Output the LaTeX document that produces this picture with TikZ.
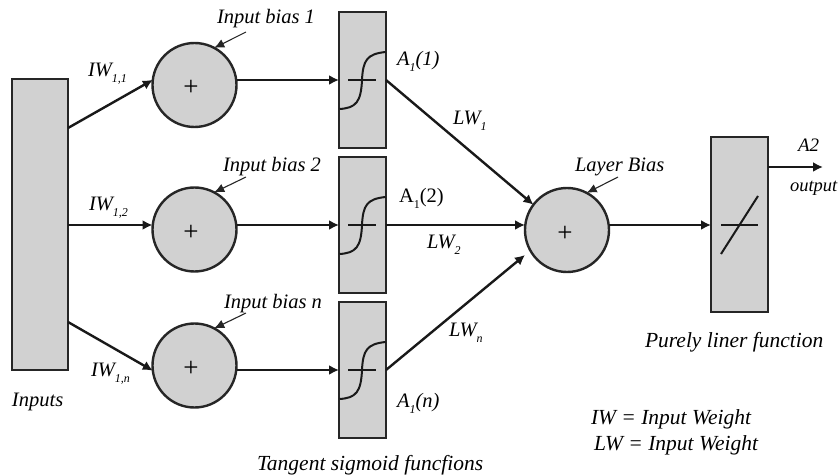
\documentclass[tikz,border=0pt]{standalone}
\usepackage{fontspec}
\setmainfont{Liberation Serif}
\usetikzlibrary{arrows.meta}
\newcommand{\lowsub}[1]{{\fontsize{12}{12}\selectfont\raisebox{-6pt}{#1}}}
\tikzset{
  x=1pt,y=-1pt,
  block/.style={draw=black!85,fill=black!18,line width=2.4pt,rectangle,inner sep=0pt,outer sep=0pt},
  sigbox/.style={block,minimum width=47pt,minimum height=136pt},
  sumnode/.style={draw=black!85,fill=black!18,line width=2.4pt,circle,inner sep=0pt,outer sep=0pt,minimum size=84pt},
  conn/.style={line width=2.4pt,black!90,-{Latex[length=10pt,width=10pt]}},
  biasarrow/.style={line width=1.1pt,black!85,-{Latex[length=10pt,width=9pt]}},
  curve/.style={line width=2pt,black!90},
  lbl/.style={anchor=base west,inner sep=0pt,outer sep=0pt,font=\fontsize{20.5}{22}\selectfont\itshape},
  biglbl/.style={lbl,font=\fontsize{21.5}{23}\selectfont\itshape},
  plusmark/.style={inner sep=0pt,font=\fontsize{27}{27}\selectfont\upshape},
}
\begin{document}
\begin{tikzpicture}
\useasboundingbox (0,0) rectangle (839,476);
% blocks
\node[block,minimum width=56pt,minimum height=291pt] (inp) at (40,224.5) {};
\node[sumnode] (c1) at (194.5,85) {};
\node[sumnode] (c2) at (194.5,229.5) {};
\node[sumnode] (c3) at (194.5,365.5) {};
\node[sumnode] (cl) at (567,230) {};
\node[sigbox] (s1) at (362.5,80) {};
\node[sigbox] (s2) at (362.5,225) {};
\node[sigbox] (s3) at (362.5,370) {};
\node[block,minimum width=57pt,minimum height=175pt] (lin) at (739.5,224.5) {};
% plus signs
\node[plusmark] (p1) at (191,88) {+};
\node[plusmark] (p2) at (191,232.5) {+};
\node[plusmark] (p3) at (191,368.5) {+};
\node[plusmark] (pl) at (565,234) {+};
% transfer curves
\foreach \n/\y in {s1/80,s2/225,s3/370}{
  \draw[curve] (348,\y) -- (376,\y);
  \draw[curve] (339.5,\y+29) .. controls (356,\y+28) and (361,\y+22) .. (362,\y)
     .. controls (363,\y-20) and (367,\y-26) .. (385.5,\y-28);
}
\draw[curve] (721,225) -- (758,225);
\draw[curve] (721,254) -- (758,196);
% connectors
\coordinate (out) at (823,167);
\draw[conn] (inp.east |- 0,128) -- (c1.173);
\draw[conn] (inp.east |- 0,225) -- (c2.west |- 0,225);
\draw[conn] (inp.east |- 0,322) -- (c3.187);
\draw[conn] (c1.east |- 0,80) -- (s1.west);
\draw[conn] (c2.east |- 0,225) -- (s2.west);
\draw[conn] (c3.east |- 0,370) -- (s3.west);
\draw[conn] (s1.east) -- (cl.143);
\draw[conn] (s2.east) -- (cl.west |- 0,225);
\draw[conn] (s3.east) -- (cl.west |- 0,255);
\draw[conn] (cl.east |- 0,225) -- (lin.west |- 0,225);
\draw[conn] (lin.east |- 0,167) -- (out);
% bias arrows
\coordinate (b1) at (246,32);
\coordinate (b2) at (246,177);
\coordinate (b3) at (246,313);
\coordinate (bl) at (618,177);
\draw[biasarrow] (b1) -- (c1.62);
\draw[biasarrow] (b2) -- (c2.62);
\draw[biasarrow] (b3) -- (c3.62);
\draw[biasarrow] (bl) -- (cl.62);
% labels
\node[lbl] (t1) at (217,24) {Input bias 1};
\node[lbl] (t2) at (223,172) {Input bias 2};
\node[lbl] (t3) at (224,308) {Input bias n};
\node[lbl] (t4) at (575,172) {Layer Bias};
\node[lbl] (iw1) at (88,77) {IW\lowsub{1,1}};
\node[lbl] (iw2) at (89,211) {IW\lowsub{1,2}};
\node[lbl] (iwn) at (91,376) {IW\lowsub{1,n}};
\node[lbl] (a1) at (397,66) {A\lowsub{1}(1)};
\node[lbl,font=\fontsize{20.5}{22}\selectfont] (a2) at (399,203) {A\lowsub{1}(2)};
\node[lbl] (an) at (397,407) {A\lowsub{1}(n)};
\node[lbl] (lw1) at (453,125) {LW\lowsub{1}};
\node[lbl] (lw2) at (427,248) {LW\lowsub{2}};
\node[lbl] (lwn) at (449,336) {LW\lowsub{n}};
\node[lbl] (inputs) at (12,406) {Inputs};
\node[biglbl] (tan) at (257,470) {Tangent sigmoid funcfions};
\node[biglbl] (pur) at (645,347) {Purely liner function};
\node[biglbl] (k1) at (591,424) {IW = Input Weight};
\node[biglbl] (k2) at (594,450) {LW = Input Weight};
\node[lbl,font=\fontsize{19}{20}\selectfont\itshape] (a2o) at (798,152) {A2};
\node[lbl,font=\fontsize{18.5}{20}\selectfont\itshape] (o) at (790,192) {output};
\end{tikzpicture}
\end{document}
